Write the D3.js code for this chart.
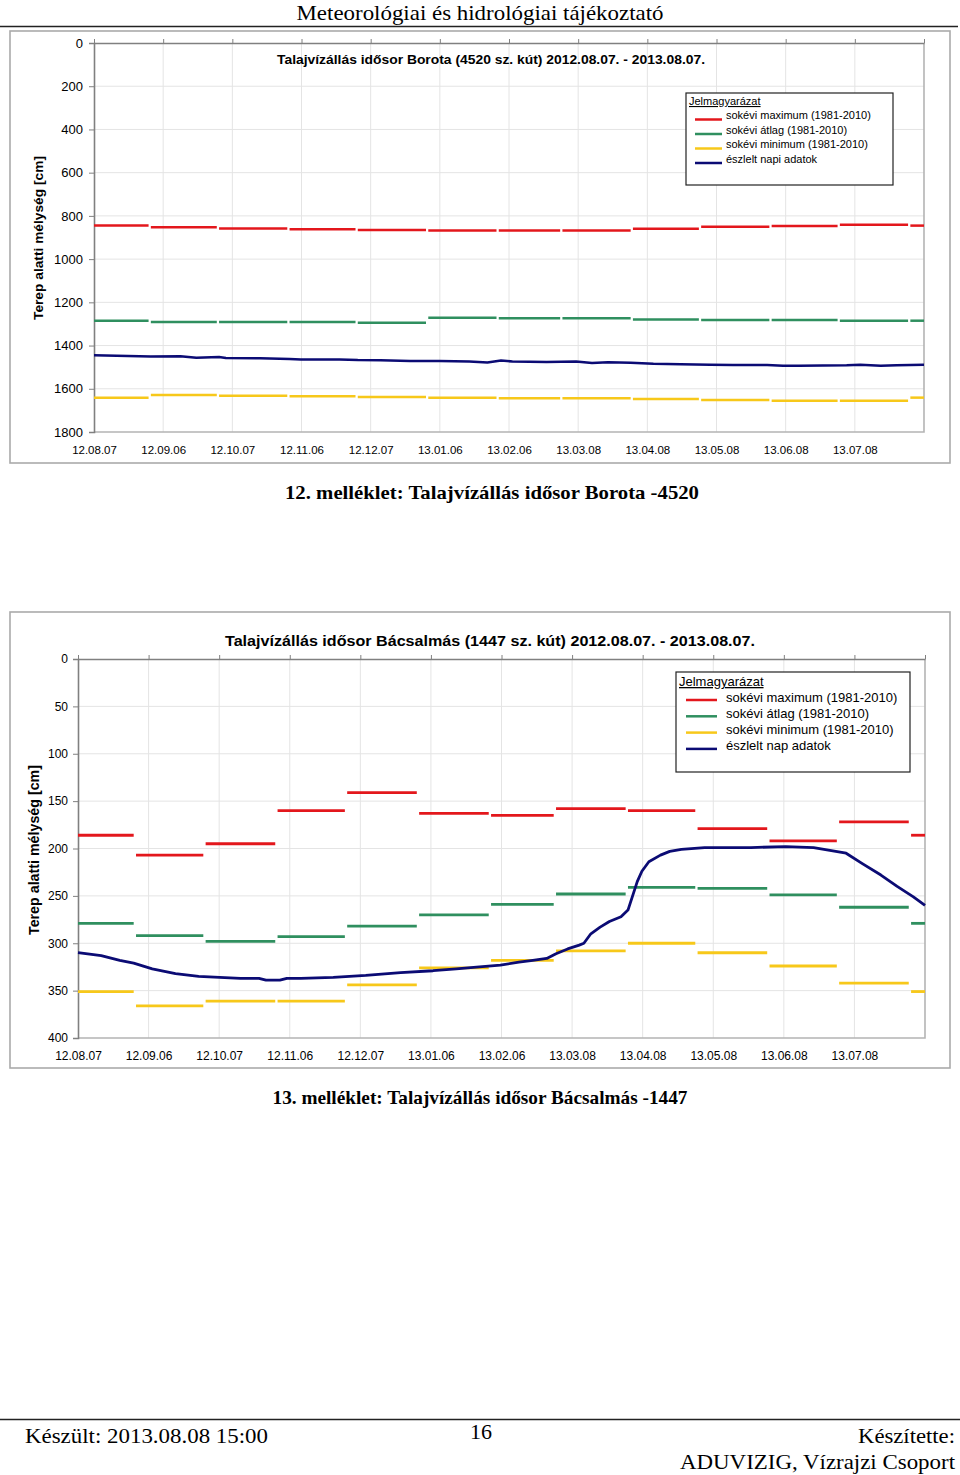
<!DOCTYPE html>
<html><head><meta charset="utf-8">
<script src="https://cdn.jsdelivr.net/npm/d3@7"></script>
<style>body{margin:0;background:#fff}svg{display:block}</style>
</head><body><svg id="c" width="960" height="1475"></svg>
<script>
// ---------- DATA ----------
const xTickLabels = ["12.08.07","12.09.06","12.10.07","12.11.06","12.12.07","13.01.06","13.02.06","13.03.08","13.04.08","13.05.08","13.06.08","13.07.08"];
// monthly segments, days counted from 2012.08.07
const segStartDay = [0,25,55,86,116,147,178,206,237,267,298,328,359];
const segEndDay   = [24,54,85,115,146,177,205,236,266,297,327,358,365];

const borotaMax = [845,853,858,862,865,868,868,868,859,850,847,841,845];
const borotaAvg = [1285,1291,1291,1291,1294,1271,1274,1274,1279,1282,1282,1285,1285];
const borotaMin = [1641,1629,1632,1635,1638,1641,1644,1644,1647,1652,1655,1655,1641];
const borotaObsDay = [0,10,25,38,45,55,58,73,86,91,108,116,126,139,152,165,173,179,184,199,212,219,226,236,246,258,271,281,296,303,310,331,337,346,353,365];
const borotaObsVal = [1445,1447,1451,1450,1456,1453,1458,1459,1462,1464,1464,1467,1468,1471,1471,1474,1478,1469,1474,1476,1474,1481,1477,1479,1484,1486,1489,1490,1490,1493,1493,1491,1489,1493,1491,1489];

const bacsMax = [186,207,195,160,141,163,165,158,160,179,192,172,186];
const bacsAvg = [279,292,298,293,282,270,259,248,241,242,249,262,279];
const bacsMin = [351,366,361,361,344,326,318,308,300,310,324,342,351];
const bacsObsDay = [0,10,18,24,32,42,52,61,70,78,81,87,90,96,110,124,139,153,163,173,182,190,196,202,206,211,216,218,221,225,229,234,237,239,241,243,246,251,255,260,270,290,305,317,324,331,338,346,353,360,365];
const bacsObsVal = [310,313,318,321,327,332,335,336,337,337,339,339,337,337,336,334,331,329,327,325,323,320,318,316,311,306,302,300,290,283,277,272,265,250,235,224,214,207,203,201,199,199,198,199,202,205,216,228,240,251,260];

const legendTitle = "Jelmagyarázat";
const legend1Labels = ["sokévi maximum (1981-2010)","sokévi átlag (1981-2010)","sokévi minimum (1981-2010)","észlelt napi adatok"];
const legend2Labels = ["sokévi maximum (1981-2010)","sokévi átlag (1981-2010)","sokévi minimum (1981-2010)","észlelt nap adatok"];
const seriesColors = ["#e3171c","#2f8f5f","#f7c81a","#0b0b74"];

// ---------- DRAW ----------
const svg = d3.select("#c");
const SANS = "'Liberation Sans', Arial, sans-serif";
const SERIF = "'Liberation Serif', 'Times New Roman', serif";

function txt(x, y, s, size, opts = {}) {
  const t = svg.append("text").attr("x", x).attr("y", y).text(s)
    .attr("font-family", opts.family || SERIF).attr("font-size", size)
    .attr("text-anchor", opts.anchor || "start").attr("fill", "#000");
  if (opts.weight) t.attr("font-weight", opts.weight);
  if (opts.len) t.attr("textLength", opts.len).attr("lengthAdjust", "spacingAndGlyphs");
  return t;
}

// header / footer
txt(480, 20, "Meteorológiai és hidrológiai tájékoztató", 22, {anchor: "middle", len: 367});
svg.append("line").attr("x1", 0).attr("x2", 958).attr("y1", 26.5).attr("y2", 26.5).attr("stroke", "#222").attr("stroke-width", 1.5);
svg.append("line").attr("x1", 0).attr("x2", 960).attr("y1", 1419.5).attr("y2", 1419.5).attr("stroke", "#222").attr("stroke-width", 1.5);
txt(25, 1443, "Készült: 2013.08.08 15:00", 22, {len: 243});
txt(481, 1439, "16", 22, {anchor: "middle"});
txt(955, 1443, "Készítette:", 22, {anchor: "end", len: 97});
txt(955, 1469, "ADUVIZIG, Vízrajzi Csoport", 22, {anchor: "end", len: 275});

function chart(o) {
  const g = svg.append("g");
  g.append("rect").attr("x", o.frame[0]).attr("y", o.frame[1])
    .attr("width", o.frame[2] - o.frame[0]).attr("height", o.frame[3] - o.frame[1])
    .attr("fill", "#fff").attr("stroke", "#aaaaaa").attr("stroke-width", 1.6);

  const x = d3.scaleLinear().domain([0, 365]).range([o.l, o.r]);
  const y = d3.scaleLinear().domain([0, o.yMax]).range([o.t, o.b]);
  const yTicks = d3.range(0, o.yMax + 1, o.yStep);
  const tickDays = d3.range(0, 13).map(i => i * 365 / 12);

  // grid
  g.append("g").selectAll("line").data(yTicks.slice(1, -1)).join("line")
    .attr("x1", o.l).attr("x2", o.r).attr("y1", d => y(d)).attr("y2", d => y(d))
    .attr("stroke", "#e4e4e4").attr("stroke-width", 1);
  g.append("g").selectAll("line").data(tickDays.slice(1, -1)).join("line")
    .attr("x1", d => x(d)).attr("x2", d => x(d)).attr("y1", o.t).attr("y2", o.b)
    .attr("stroke", "#e4e4e4").attr("stroke-width", 1);
  // right & bottom border of plot
  g.append("path").attr("d", `M${o.r},${o.t}V${o.b}H${o.l}`).attr("fill", "none")
    .attr("stroke", "#b4b4b4").attr("stroke-width", 1.6);

  // y axis
  const ya = g.append("g").attr("transform", `translate(${o.l},0)`)
    .call(d3.axisLeft(y).tickValues(yTicks).tickSize(5).tickPadding(o.yPad).tickFormat(d3.format("d")));
  ya.select(".domain").attr("stroke", "#808080").attr("stroke-width", 1.6);
  ya.selectAll(".tick line").attr("stroke", "#808080");
  ya.selectAll("text").attr("font-family", SANS).attr("font-size", o.yFont).attr("fill", "#000");

  // x axis line at depth 0 (top) with ticks
  const xa = g.append("g").attr("transform", `translate(0,${o.t})`)
    .call(d3.axisTop(x).tickValues(tickDays).tickSize(4).tickSizeOuter(0).tickFormat(""));
  xa.select(".domain").attr("stroke", "#808080").attr("stroke-width", 1.6);
  xa.selectAll(".tick line").attr("stroke", "#808080");
  // x labels at bottom
  const xl = g.append("g").attr("transform", `translate(0,${o.b})`)
    .call(d3.axisBottom(x).tickValues(tickDays.slice(0, 12)).tickSize(0).tickPadding(o.xPad)
      .tickFormat((d, i) => xTickLabels[i]));
  xl.select(".domain").remove();
  xl.selectAll("text").attr("font-family", SANS).attr("font-size", o.xFont).attr("fill", "#000");

  // step series
  [o.max, o.avg, o.min].forEach((vals, k) => {
    g.append("g").selectAll("line").data(vals).join("line")
      .attr("x1", (d, i) => x(segStartDay[i])).attr("x2", (d, i) => x(segEndDay[i]))
      .attr("y1", d => y(d)).attr("y2", d => y(d))
      .attr("stroke", seriesColors[k]).attr("stroke-width", o.segW);
  });
  // observed
  const pts = o.obsDay.map((d, i) => [d, o.obsVal[i]]);
  g.append("path").datum(pts).attr("fill", "none").attr("stroke", seriesColors[3])
    .attr("stroke-width", o.obsW).attr("stroke-linejoin", "round")
    .attr("d", d3.line().x(d => x(d[0])).y(d => y(d[1])));

  // title
  g.append("text").attr("x", o.title.x).attr("y", o.title.y).text(o.title.s)
    .attr("font-family", SANS).attr("font-weight", "bold").attr("font-size", o.title.size)
    .attr("text-anchor", "middle").attr("textLength", o.title.len).attr("lengthAdjust", "spacingAndGlyphs");
  // y label
  g.append("text").attr("transform", `translate(${o.ylab.x},${o.ylab.y}) rotate(-90)`)
    .text("Terep alatti mélység [cm]").attr("font-family", SANS).attr("font-weight", "bold")
    .attr("font-size", o.ylab.size).attr("text-anchor", "middle")
    .attr("textLength", o.ylab.len).attr("lengthAdjust", "spacingAndGlyphs");

  // legend
  const L = o.leg;
  g.append("rect").attr("x", L.x0).attr("y", L.y0).attr("width", L.x1 - L.x0).attr("height", L.y1 - L.y0)
    .attr("fill", "#fff").attr("stroke", "#222").attr("stroke-width", 1.2);
  g.append("text").attr("x", L.x0 + 3).attr("y", L.titleY).text(legendTitle)
    .attr("font-family", SANS).attr("font-size", L.size).attr("text-decoration", "underline");
  L.labels.forEach((s, i) => {
    g.append("line").attr("x1", L.lx0).attr("x2", L.lx1)
      .attr("y1", L.lineY + i * L.dy).attr("y2", L.lineY + i * L.dy)
      .attr("stroke", seriesColors[i]).attr("stroke-width", 2.5);
    g.append("text").attr("x", L.tx).attr("y", L.textY + i * L.dy).text(s)
      .attr("font-family", SANS).attr("font-size", L.size);
  });
}

chart({
  frame: [10, 31, 950, 463], l: 94, r: 924, t: 43, b: 432, yMax: 1800, yStep: 200,
  yPad: 6, yFont: 13, xPad: 14, xFont: 11.5, segW: 2.5, obsW: 2.5,
  max: borotaMax, avg: borotaAvg, min: borotaMin, obsDay: borotaObsDay, obsVal: borotaObsVal,
  title: {x: 491, y: 64, s: "Talajvízállás idősor Borota (4520 sz. kút) 2012.08.07. - 2013.08.07.", size: 13, len: 428},
  ylab: {x: 43, y: 238, size: 13, len: 164},
  leg: {x0: 686, y0: 93, x1: 893, y1: 185, titleY: 105, size: 11, labels: legend1Labels,
        lx0: 695, lx1: 722, lineY: 119.5, tx: 726, textY: 119, dy: 14.5}
});

chart({
  frame: [10, 612, 950, 1068], l: 78, r: 925, t: 659, b: 1038, yMax: 400, yStep: 50,
  yPad: 5, yFont: 12, xPad: 13, xFont: 12, segW: 2.8, obsW: 2.8,
  max: bacsMax, avg: bacsAvg, min: bacsMin, obsDay: bacsObsDay, obsVal: bacsObsVal,
  title: {x: 490, y: 646, s: "Talajvízállás idősor Bácsalmás (1447 sz. kút) 2012.08.07. - 2013.08.07.", size: 15, len: 530},
  ylab: {x: 39, y: 850, size: 14, len: 170},
  leg: {x0: 676, y0: 672, x1: 910, y1: 772, titleY: 686, size: 13, labels: legend2Labels,
        lx0: 686, lx1: 717, lineY: 700, tx: 726, textY: 701.5, dy: 16.3}
});

// captions
txt(492, 499, "12. melléklet: Talajvízállás idősor Borota -4520", 19, {anchor: "middle", weight: "bold", len: 414});
txt(480, 1104, "13. melléklet: Talajvízállás idősor Bácsalmás -1447", 19, {anchor: "middle", weight: "bold", len: 415});
</script></body></html>
